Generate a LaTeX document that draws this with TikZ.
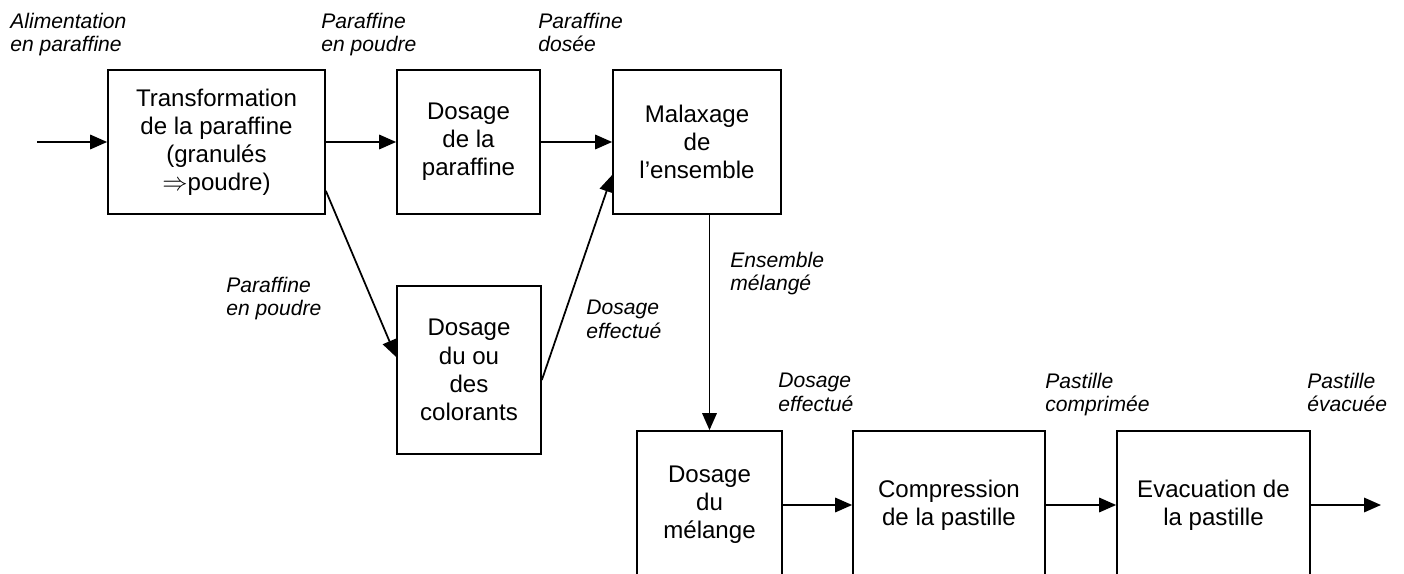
\documentclass[tikz,border=0pt]{standalone}
\usepackage{fontspec}
\setmainfont{Liberation Sans}
\usetikzlibrary{arrows.meta}

\begin{document}
\begin{tikzpicture}[x=0.02cm, y=-0.02cm,
  box/.style={rectangle, draw, line width=1pt, align=center, inner sep=2pt, minimum height=2.88cm, font=\fontsize{13.7}{16}\selectfont},
  lbl/.style={anchor=north west, inner sep=0pt, align=left, font=\fontsize{12}{13.5}\selectfont\itshape},
  flow/.style={-{Triangle[length=3.4mm, width=2.9mm]}, line width=1pt}]
  \useasboundingbox (0,0) rectangle (1404,574);
  \clip (0,0) rectangle (1404,574);
  % Nodes
  \node (T) [box, minimum width=4.34cm] at (216.5,142) {Transformation\\de la paraffine\\(granulés\\$\Rightarrow$poudre)};
  \node (DP) [box, minimum width=2.86cm] at (468.5,142) {Dosage\\de la\\paraffine};
  \node (M) [box, minimum width=3.36cm] at (697,142) {Malaxage\\de\\l’ensemble};
  \node (DC) [box, minimum width=2.88cm, minimum height=3.36cm] at (469,370) {Dosage\\du ou\\des\\colorants};
  \node (DM) [box, minimum width=2.9cm, minimum height=2.96cm] at (709.5,505) {Dosage\\du\\mélange};
  \node (CP) [box, minimum width=3.84cm, minimum height=2.96cm] at (949,505) {Compression\\de la pastille};
  \node (EV) [box, minimum width=3.86cm, minimum height=2.96cm] at (1213.5,505) {Evacuation de\\la pastille};
  \coordinate (in) at (37,142);
  \coordinate (out) at (1381,505);
  % Labels
  \node (l-ali) [lbl] at (10,12.5) {Alimentation\\en paraffine};
  \node (l-pp1) [lbl] at (321,12.5) {Paraffine\\en poudre};
  \node (l-pd) [lbl] at (538,12.5) {Paraffine\\dosée};
  \node (l-pp2) [lbl] at (226,276.5) {Paraffine\\en poudre};
  \node (l-de1) [lbl] at (586,299.5) {Dosage\\effectué};
  \node (l-em) [lbl] at (730,251.5) {Ensemble\\mélangé};
  \node (l-de2) [lbl] at (778,372.5) {Dosage\\effectué};
  \node (l-pc) [lbl] at (1045,372.5) {Pastille\\comprimée};
  \node (l-pe) [lbl] at (1307,372.5) {Pastille\\évacuée};
  % Arrows
  \draw[flow] (in) -- (T);
  \draw[flow] (T) -- (DP);
  \draw[flow] (DP) -- (M);
  \draw[flow] ([yshift=0.48cm]T.south east) -- ([yshift=0.26cm]DC.west);
  \draw[flow] ([yshift=-0.2cm]DC.east) -- ([yshift=-0.66cm]M.west);
  \draw[flow] (M.south -| DM) -- (DM);
  \draw[flow] (DM) -- (CP);
  \draw[flow] (CP) -- (EV);
  \draw[flow] (EV) -- (out);
\end{tikzpicture}
\end{document}
